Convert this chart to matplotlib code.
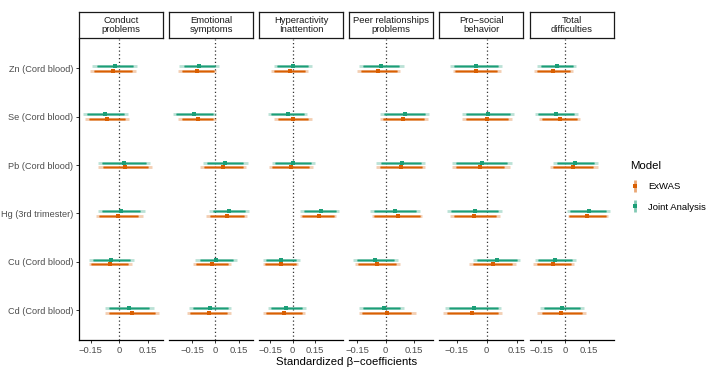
import numpy as np
import matplotlib
matplotlib.use('Agg')
import matplotlib.pyplot as plt
from matplotlib.lines import Line2D
from matplotlib.legend_handler import HandlerTuple

plt.rcParams['font.family'] = ['Liberation Sans', 'DejaVu Sans']
plt.rcParams['axes.unicode_minus'] = True

# 面板（结局）与暴露（从上到下）
outcomes = ['Conduct\nproblems', 'Emotional\nsymptoms', 'Hyperactivity\nInattention',
            'Peer relationships\nproblems', 'Pro\u2212social\nbehavior', 'Total\ndifficulties']
exposures = ['Zn (Cord blood)', 'Se (Cord blood)', 'Pb (Cord blood)',
             'Hg (3rd trimester)', 'Cu (Cord blood)', 'Cd (Cord blood)']

# Joint Analysis：每行一个结局，列顺序同 exposures
joint_est = [[-0.021, -0.077, 0.026, 0.007, -0.042, 0.049],
             [-0.102, -0.136, 0.064, 0.089, 0.004, -0.034],
             [0.000, -0.031, 0.004, 0.187, -0.076, -0.042],
             [-0.024, 0.099, 0.084, 0.049, -0.054, -0.007],
             [-0.054, 0.007, -0.026, -0.056, 0.050, -0.064],
             [-0.053, -0.057, 0.061, 0.147, -0.063, -0.020]]
joint_lo95 = [[-0.143, -0.192, -0.111, -0.113, -0.162, -0.078],
              [-0.230, -0.272, -0.077, -0.043, -0.128, -0.166],
              [-0.124, -0.167, -0.140, 0.051, -0.198, -0.167],
              [-0.140, -0.028, -0.049, -0.080, -0.171, -0.140],
              [-0.183, -0.124, -0.173, -0.196, -0.068, -0.206],
              [-0.176, -0.188, -0.078, 0.008, -0.188, -0.160]]
joint_hi95 = [[0.094, 0.044, 0.160, 0.132, 0.077, 0.181],
              [0.021, 0.004, 0.209, 0.217, 0.136, 0.102],
              [0.127, 0.098, 0.149, 0.313, 0.047, 0.087],
              [0.094, 0.230, 0.209, 0.181, 0.066, 0.098],
              [0.074, 0.134, 0.124, 0.078, 0.163, 0.071],
              [0.070, 0.078, 0.204, 0.278, 0.070, 0.119]]
joint_lo80 = [[-0.118, -0.171, -0.091, -0.092, -0.139, -0.057],
              [-0.204, -0.251, -0.055, -0.017, -0.098, -0.145],
              [-0.102, -0.144, -0.118, 0.078, -0.176, -0.144],
              [-0.119, -0.007, -0.024, -0.063, -0.150, -0.119],
              [-0.163, -0.101, -0.153, -0.177, -0.048, -0.186],
              [-0.155, -0.168, -0.053, 0.029, -0.168, -0.135]]
joint_hi80 = [[0.070, 0.023, 0.139, 0.110, 0.056, 0.157],
              [0.000, -0.017, 0.179, 0.191, 0.115, 0.081],
              [0.104, 0.073, 0.122, 0.291, 0.024, 0.064],
              [0.070, 0.209, 0.188, 0.161, 0.045, 0.077],
              [0.054, 0.114, 0.101, 0.058, 0.150, 0.054],
              [0.049, 0.057, 0.180, 0.254, 0.045, 0.094]]

# ExWAS
exwas_est = [[-0.031, -0.064, 0.028, -0.005, -0.049, 0.064],
             [-0.115, -0.113, 0.049, 0.074, -0.021, -0.043],
             [-0.020, 0.000, -0.011, 0.176, -0.080, -0.060],
             [-0.038, 0.092, 0.080, 0.063, -0.044, 0.007],
             [-0.051, 0.003, -0.033, -0.061, 0.030, -0.071],
             [-0.076, -0.033, 0.049, 0.137, -0.076, -0.025]]
exwas_lo95 = [[-0.152, -0.181, -0.110, -0.122, -0.162, -0.078],
              [-0.238, -0.238, -0.098, -0.060, -0.145, -0.183],
              [-0.144, -0.122, -0.158, 0.047, -0.198, -0.198],
              [-0.150, -0.031, -0.052, -0.073, -0.161, -0.140],
              [-0.167, -0.124, -0.173, -0.183, -0.087, -0.216],
              [-0.196, -0.164, -0.098, 0.016, -0.200, -0.176]]
exwas_hi95 = [[0.087, 0.052, 0.171, 0.122, 0.066, 0.209],
              [0.004, 0.004, 0.196, 0.204, 0.102, 0.102],
              [0.104, 0.127, 0.136, 0.291, 0.038, 0.082],
              [0.077, 0.220, 0.209, 0.192, 0.073, 0.161],
              [0.071, 0.124, 0.114, 0.068, 0.144, 0.074],
              [0.049, 0.094, 0.204, 0.270, 0.053, 0.127]]
exwas_lo80 = [[-0.132, -0.160, -0.087, -0.108, -0.150, -0.057],
              [-0.217, -0.217, -0.072, -0.034, -0.123, -0.162],
              [-0.122, -0.100, -0.136, 0.064, -0.186, -0.176],
              [-0.129, -0.014, -0.031, -0.059, -0.143, -0.122],
              [-0.157, -0.101, -0.153, -0.163, -0.068, -0.196],
              [-0.176, -0.143, -0.074, 0.025, -0.180, -0.147]]
exwas_hi80 = [[0.066, 0.031, 0.148, 0.098, 0.045, 0.188],
              [-0.009, -0.013, 0.174, 0.183, 0.081, 0.077],
              [0.082, 0.104, 0.113, 0.276, 0.020, 0.060],
              [0.059, 0.199, 0.192, 0.178, 0.052, 0.133],
              [0.051, 0.104, 0.087, 0.048, 0.127, 0.054],
              [0.029, 0.074, 0.172, 0.254, 0.033, 0.106]]

col_exwas = '#D95F02'
col_joint = '#1B9E77'
txt_col = '#4D4D4D'
fs = 6.8
fs_y = 6.6

W, H = 720, 373
fig = plt.figure(figsize=(W / 100, H / 100), dpi=100)

n = len(exposures)
ypos = np.arange(n)[::-1] + 1  # Zn 在最上面

panel_w = 84
y_top, y_bot = 39, 339.5
strip_top = 12

models = [
    ('ExWAS', col_exwas, -0.05, exwas_est, exwas_lo95, exwas_hi95, exwas_lo80, exwas_hi80),
    ('Joint Analysis', col_joint, 0.05, joint_est, joint_lo95, joint_hi95, joint_lo80, joint_hi80),
]

for i, title in enumerate(outcomes):
    left = 79 + i * 90.1
    ax = fig.add_axes([left / W, 1 - y_bot / H, panel_w / W, (y_bot - y_top) / H])
    for name, c, off, est, lo95, hi95, lo80, hi80 in models:
        y = ypos + off
        ax.hlines(y, lo95[i], hi95[i], color=c, lw=2.0, alpha=0.3, zorder=2)
        ax.hlines(y, lo80[i], hi80[i], color=c, lw=2.0, alpha=0.45, zorder=3)
        ax.hlines(y, lo80[i], hi80[i], color=c, lw=0.9, zorder=4)
        ax.plot(est[i], y, 's', color=c, ms=3.0, mew=0, zorder=5)
    ax.axvline(0, color='#333333', ls=(0, (1, 2)), lw=0.9, zorder=1)

    lo = min(min(joint_lo95[i]), min(exwas_lo95[i]))
    hi = max(max(joint_hi95[i]), max(exwas_hi95[i]))
    pad = (hi - lo) * 0.05
    ax.set_xlim(lo - pad, hi + pad)
    ax.set_ylim(0.4, n + 0.6)
    ax.set_xticks([-0.15, 0, 0.15])
    ax.set_xticklabels(['\u22120.15', '0', '0.15'])
    ax.tick_params(axis='x', colors='#333333', labelcolor=txt_col, labelsize=fs,
                   length=2.5, width=0.7, pad=2)
    for s in ['top', 'right']:
        ax.spines[s].set_visible(False)
    ax.spines['bottom'].set_linewidth(0.9)
    if i == 0:
        ax.set_yticks(ypos)
        ax.set_yticklabels(exposures)
        ax.tick_params(axis='y', colors='#333333', labelcolor=txt_col, labelsize=fs_y,
                       length=2.5, width=0.7, pad=1.5)
        ax.spines['left'].set_linewidth(0.9)
    else:
        ax.set_yticks([])
        ax.spines['left'].set_visible(False)

    # 分面标题框
    sax = fig.add_axes([left / W, 1 - 38 / H, panel_w / W, (38 - strip_top) / H])
    sax.set_xticks([])
    sax.set_yticks([])
    for s in sax.spines.values():
        s.set_linewidth(0.9)
        s.set_color('#1A1A1A')
    sax.text(0.5, 0.5, title, ha='center', va='center', fontsize=fs,
             color='#1A1A1A', linespacing=1.0, transform=sax.transAxes)

fig.text(346.5 / W, 1 - 362 / H, 'Standardized \u03b2\u2212coefficients',
         ha='center', va='center', fontsize=8.2, color='black')

# 图例：竖线加点（叠在一起）
handles = []
for name, c, *_ in models:
    bar = Line2D([], [], color=c, marker='|', ms=9, mew=2, alpha=0.55, ls='None')
    pt = Line2D([], [], color=c, marker='s', ms=3.0, mew=0, ls='None')
    handles.append((bar, pt))
leg = fig.legend(handles, [m[0] for m in models], title='Model',
                 handler_map={tuple: HandlerTuple(ndivide=1)},
                 loc='upper left', bbox_to_anchor=(630 / W, 1 - 161 / H),
                 frameon=False, fontsize=fs, title_fontsize=8.2,
                 handlelength=1.0, handletextpad=0.9, labelspacing=1.2,
                 borderaxespad=0, borderpad=0)
leg._legend_box.align = 'left'

plt.savefig('out.png', dpi=100)
